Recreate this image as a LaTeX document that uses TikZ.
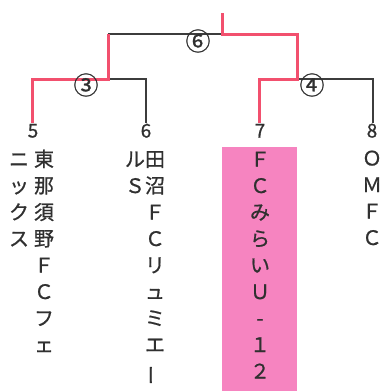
\documentclass[tikz,border=0pt]{standalone}
\usepackage{fontspec}
\setmainfont{Noto Sans CJK JP}[FakeBold=0.8]
\usetikzlibrary{positioning}
\definecolor{winred}{RGB}{242,80,110}
\definecolor{winpink}{RGB}{246,132,192}
\definecolor{linegray}{RGB}{60,60,60}
\newcommand{\rowStep}{26.5}

\begin{document}
\begin{tikzpicture}[x=1pt, y=-1pt,
  every node/.style={font=\fontsize{20}{22}\selectfont, inner sep=0pt, text height=0.78em, text depth=0.08em, text=linegray!80!black},
  win/.style={winred, line width=3pt, line join=miter},
  lose/.style={linegray, line width=1.1pt},
  seed/.style={font=\fontsize{19}{22}\selectfont},
  match/.style={font=\fontsize{25}{27}\selectfont},
  ch/.style={anchor=center}]
\useasboundingbox (0,0) rectangle (385,391);
\fill[winpink] (222,147) rectangle (297,391);
% bracket corners
\coordinate (top) at (222,13);
\coordinate (fin) at (222,34);
\coordinate (semiL) at (108,34);
\coordinate (semiR) at (297,34);
\coordinate (semiLb) at (108,79);
\coordinate (semiRb) at (297,79);
\coordinate (t5) at (32,79);  \coordinate (t5b) at (32,123);
\coordinate (t6) at (146,79); \coordinate (t6b) at (146,123);
\coordinate (t7) at (259,79); \coordinate (t7b) at (259,123);
\coordinate (t8) at (373,79); \coordinate (t8b) at (373,123);
\draw[lose] (semiL) -- (fin);
\draw[lose] (semiLb) -- (t6) -- (t6b);
\draw[lose] (semiRb) -- (t8) -- (t8b);
\draw[win] (top) -- (fin) -- (semiR) -- (semiRb) -- (t7) -- (t7b);
\draw[win] (semiL) -- (semiLb) -- (t5) -- (t5b);
% match numbers
\node[match] (m6) at (198,47) {⑥};
\node[match] (m3) at (86,91) {③};
\node[match] (m4) at (312,91) {④};
% seeds
\node[seed] (n5) at (33,134) {5};
\node[seed] (n6) at (146,134) {6};
\node[seed] (n7) at (260,134) {7};
\node[seed] (n8) at (372,134) {8};
% team names, one character per row
\foreach \c [count=\i] in {東,那,須,野,Ｆ,Ｃ,フ,ェ}
  \node[ch] (a5-\i) at (44,163+\rowStep*\i-\rowStep) {\c};
\foreach \c [count=\i] in {ニ,ッ,ク,ス}
  \node[ch] (b5-\i) at (19,163+\rowStep*\i-\rowStep) {\c};
\foreach \c [count=\i] in {田,沼,Ｆ,Ｃ,リ,ュ,ミ,エ}
  \node[ch] (a6-\i) at (155,163+\rowStep*\i-\rowStep) {\c};
\node[ch, rotate=90] (a6-9) at (155,163+\rowStep*8) {ー};
\foreach \c [count=\i] in {ル,Ｓ}
  \node[ch] (b6-\i) at (135,163+\rowStep*\i-\rowStep) {\c};
\foreach \c [count=\i] in {Ｆ,Ｃ,み,ら,い,Ｕ,-,１,２}
  \node[ch] (a7-\i) at (260,163+\rowStep*\i-\rowStep) {\c};
\foreach \c [count=\i] in {Ｏ,Ｍ,Ｆ,Ｃ}
  \node[ch] (a8-\i) at (372,162+\rowStep*\i-\rowStep) {\c};
\end{tikzpicture}
\end{document}
